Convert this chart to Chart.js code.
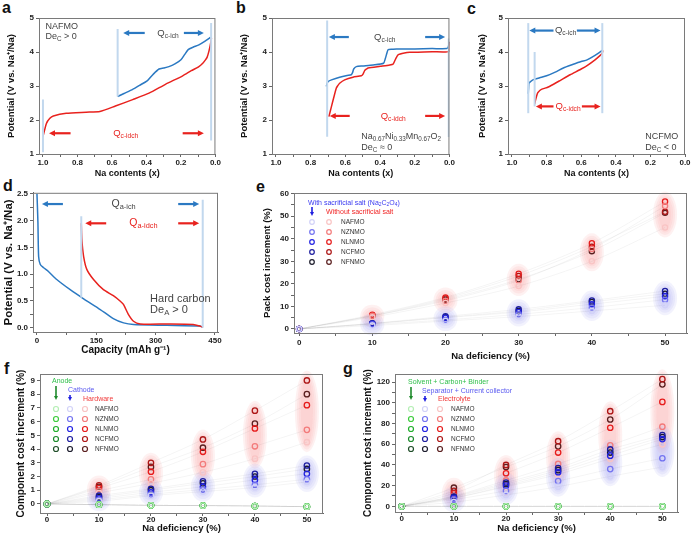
<!DOCTYPE html>
<html>
<head>
<meta charset="utf-8">
<script src="https://cdn.jsdelivr.net/npm/chart.js@4.4.1/dist/chart.umd.min.js"></script>
<style>
  body { margin: 0; background: #fff; }
  #page { position: relative; width: 694px; height: 534px; overflow: hidden; background: #fff; }
  canvas { position: absolute; }
  .lab { position: absolute; font: bold 16px "Liberation Sans", Arial, sans-serif; color: #111; }
</style>
</head>
<body>
<div id="page">
  <div class="lab" style="left:2px;top:-1px">a</div>
  <div class="lab" style="left:236px;top:-1px">b</div>
  <div class="lab" style="left:467px;top:0px">c</div>
  <div class="lab" style="left:3px;top:177px">d</div>
  <div class="lab" style="left:256px;top:178px">e</div>
  <div class="lab" style="left:4px;top:360px">f</div>
  <div class="lab" style="left:343px;top:360px">g</div>
  <canvas id="cA" width="222" height="180" style="left:0;top:0"></canvas>
  <canvas id="cB" width="223" height="180" style="left:233px;top:0"></canvas>
  <canvas id="cC" width="225" height="180" style="left:469px;top:0"></canvas>
  <canvas id="cD" width="224" height="174" style="left:0;top:186px"></canvas>
  <canvas id="cE" width="439" height="177" style="left:255px;top:186px"></canvas>
  <canvas id="cF" width="330" height="168" style="left:0;top:366px"></canvas>
  <canvas id="cG" width="342" height="168" style="left:352px;top:366px"></canvas>
</div>
<script>
// ---------- data ----------
// a: NAFMO charge / discharge (Na content x vs potential)
const aChargeX = [0.567, 0.53, 0.48, 0.44, 0.394, 0.36, 0.327, 0.30, 0.27, 0.235, 0.2, 0.178, 0.158, 0.13, 0.096, 0.06, 0.029];
const aChargeV = [2.69, 2.78, 2.9, 3.02, 3.16, 3.35, 3.5, 3.53, 3.57, 3.65, 3.77, 3.93, 4.07, 4.14, 4.21, 4.32, 4.43];
const aDischargeX = [0.023, 0.03, 0.038, 0.048, 0.058, 0.075, 0.096, 0.14, 0.19, 0.29, 0.385, 0.48, 0.58, 0.67, 0.75, 0.865, 0.94, 0.96, 0.98, 1.0];
const aDischargeV = [4.41, 4.2, 4.02, 3.85, 3.77, 3.66, 3.57, 3.45, 3.3, 3.05, 2.79, 2.6, 2.41, 2.25, 2.23, 2.2, 2.12, 2.05, 1.9, 1.51];

// b: Na0.67Ni0.33Mn0.67O2
const bChargeX = [0.71, 0.705, 0.70, 0.68, 0.633, 0.59, 0.566, 0.558, 0.552, 0.537, 0.5, 0.44, 0.38, 0.37, 0.36, 0.353, 0.33, 0.305, 0.2, 0.1, 0.015, 0.006, 0.0];
const bChargeV = [2.99, 3.08, 3.13, 3.18, 3.26, 3.31, 3.33, 3.4, 3.5, 3.57, 3.59, 3.62, 3.67, 3.8, 3.98, 4.07, 4.08, 4.09, 4.09, 4.1, 4.1, 4.16, 4.3];
const bDischargeX = [0.0, 0.0, 0.1, 0.228, 0.26, 0.295, 0.31, 0.324, 0.344, 0.4, 0.469, 0.478, 0.488, 0.498, 0.508, 0.556, 0.604, 0.633, 0.645, 0.652, 0.665, 0.68, 0.695];
const bDischargeV = [4.3, 4.02, 4.01, 3.99, 3.97, 3.92, 3.8, 3.65, 3.62, 3.58, 3.53, 3.5, 3.46, 3.35, 3.3, 3.26, 3.18, 3.08, 3.0, 2.94, 2.7, 2.4, 2.1];

// c: NCFMO
const cChargeX = [0.906, 0.904, 0.902, 0.89, 0.879, 0.84, 0.80, 0.75, 0.703, 0.65, 0.6, 0.566, 0.52, 0.478];
const cChargeV = [2.77, 2.95, 3.08, 3.14, 3.18, 3.24, 3.3, 3.41, 3.53, 3.63, 3.72, 3.77, 3.9, 4.05];
const cDischargeX = [0.869, 0.862, 0.855, 0.85, 0.83, 0.79, 0.73, 0.664, 0.6, 0.566, 0.52, 0.49, 0.478, 0.475];
const cDischargeV = [2.47, 2.62, 2.75, 2.81, 2.9, 2.97, 3.14, 3.33, 3.5, 3.6, 3.77, 3.9, 3.97, 4.05];

// d: hard carbon (capacity vs potential)
const dChargeCap = [0, 1, 2.5, 4.2, 8.4, 16.8, 29, 50, 84, 118, 160, 193, 219, 244, 328, 412, 419];
const dChargeV = [2.5, 2.3, 1.95, 1.33, 1.18, 1.12, 1.05, 0.9, 0.71, 0.54, 0.34, 0.17, 0.09, 0.06, 0.045, 0.03, 0.01];
const dDischargeCap = [112, 113.5, 118, 126, 143, 168, 193, 210, 219, 231, 244, 261, 328, 395, 412, 419];
const dDischargeV = [1.95, 1.64, 1.33, 1.09, 0.9, 0.71, 0.6, 0.5, 0.43, 0.25, 0.12, 0.07, 0.068, 0.06, 0.03, 0.01];

// e, f, g: cost increments vs Na deficiency, one row per material
const deficiency = [0, 10, 20, 30, 40, 50];
const materials = ['NAFMO', 'NZNMO', 'NLNMO', 'NCFMO', 'NFNMO'];

const packWithSalt = [
  [0, 1.5, 3.5, 5.5, 8, 10.5],
  [0, 2, 4, 6.5, 9.5, 13],
  [0, 2.3, 5, 7.5, 11, 14.5],
  [0, 2.5, 5.6, 8.7, 12.6, 16.8],
  [0, 2.4, 5.2, 8, 12, 15.6]
];
const packWithoutSalt = [
  [0, 5.2, 11.5, 19, 30, 45],
  [0, 5.8, 12.5, 21.5, 35.5, 54.5],
  [0, 6.3, 14, 24.5, 38, 56.5],
  [0, 6.0, 13.5, 23.5, 36.5, 52],
  [0, 5.7, 13, 22, 34.5, 51.5]
];

const anodeCost = [
  [0, -0.05, -0.1, -0.12, -0.15, -0.2],
  [0, -0.05, -0.1, -0.12, -0.15, -0.2],
  [0, -0.05, -0.1, -0.12, -0.15, -0.2],
  [0, -0.05, -0.1, -0.12, -0.15, -0.2],
  [0, -0.05, -0.1, -0.12, -0.15, -0.2]
];
const cathodeCost = [
  [0, 0.2, 0.6, 0.9, 1.2, 1.6],
  [0, 0.3, 0.7, 1.05, 1.4, 1.8],
  [0, 0.4, 0.85, 1.25, 1.75, 2.2],
  [0, 0.6, 1.1, 1.65, 2.2, 2.8],
  [0, 0.5, 1.0, 1.5, 2.0, 2.55]
];
const hardwareCost = [
  [0, 0.8, 1.5, 2.3, 3.3, 4.5],
  [0, 0.95, 1.8, 2.9, 4.2, 5.4],
  [0, 1.15, 2.35, 3.8, 5.5, 7.2],
  [0, 1.35, 3.0, 4.7, 6.8, 9.0],
  [0, 1.25, 2.7, 4.1, 5.85, 8.0]
];

const solventCost = [
  [0, 0, 0, 0, 0, 0],
  [0, 0, 0, 0, 0, 0],
  [0, 0, 0, 0, 0, 0],
  [0, 0, 0, 0, 0, 0],
  [0, 0, 0, 0, 0, 0]
];
const separatorCost = [
  [0, 4, 11, 19, 29, 38],
  [0, 6.5, 15, 24.5, 36, 46.5],
  [0, 8, 20, 33, 49, 65],
  [0, 9.5, 23, 37, 55, 69],
  [0, 9, 21.5, 35, 52, 67]
];
const electrolyteCost = [
  [0, 8, 19, 31, 46, 60],
  [0, 10, 25, 41, 59, 77],
  [0, 12.5, 32, 52, 76, 101],
  [0, 15, 40, 63, 92, 123],
  [0, 18, 38, 58, 84, 118]
];

// ---------- styles ----------
const FONT = '"Liberation Sans", Arial, sans-serif';
const BLUE = '#2b79c2';
const RED = '#e8221e';
const GUIDE = '#c2d8ee';
const NOTE = '#444';
const greenShades = ['#b4eeb4', '#3ccc3c', '#1fae2a', '#1b8a2b', '#1f4d28'];
const blueShades = ['#d2d2f8', '#7373f0', '#2323e2', '#1c1c9e', '#1c1c2c'];
const redShades = ['#f9c4c4', '#f37b7b', '#e61c1c', '#ad1616', '#5a1f1f'];

Chart.defaults.font.family = FONT;

// draws text with sub/superscripts, parts = [[text, ''|'sub'|'sup'], ...]
function richText(ctx, parts, x, y, size, color, align) {
  ctx.save();
  ctx.fillStyle = color;
  ctx.textBaseline = 'middle';
  ctx.textAlign = 'left';
  const fonts = parts.map(p => (p[1] ? size * 0.7 : size) + 'px ' + FONT);
  let w = 0;
  parts.forEach((p, i) => { ctx.font = fonts[i]; w += ctx.measureText(p[0]).width; });
  let cx = align === 'center' ? x - w / 2 : x;
  parts.forEach((p, i) => {
    ctx.font = fonts[i];
    const dy = p[1] === 'sub' ? size * 0.3 : p[1] === 'sup' ? -size * 0.35 : 0;
    ctx.fillText(p[0], cx, y + dy);
    cx += ctx.measureText(p[0]).width;
  });
  ctx.restore();
}

function arrow(ctx, x1, y1, x2, y2, color, width, head) {
  const a = Math.atan2(y2 - y1, x2 - x1);
  const c = Math.cos(a), s = Math.sin(a);
  ctx.save();
  ctx.strokeStyle = color;
  ctx.fillStyle = color;
  ctx.lineWidth = width;
  ctx.beginPath();
  ctx.moveTo(x1, y1);
  ctx.lineTo(x2 - c * head * 0.8, y2 - s * head * 0.8);
  ctx.stroke();
  ctx.beginPath();
  ctx.moveTo(x2, y2);
  ctx.lineTo(x2 - head * c + head * 0.5 * s, y2 - head * s - head * 0.5 * c);
  ctx.lineTo(x2 - head * c - head * 0.5 * s, y2 - head * s + head * 0.5 * c);
  ctx.closePath();
  ctx.fill();
  ctx.restore();
}

const frame = {
  id: 'frame',
  afterDraw(chart) {
    const { ctx, chartArea: a } = chart;
    ctx.save();
    ctx.strokeStyle = '#7a7a7a';
    ctx.lineWidth = 1;
    ctx.strokeRect(a.left + 0.5, a.top + 0.5, a.right - a.left - 1, a.bottom - a.top);
    ctx.restore();
  }
};

// arrows and labels placed in data coordinates
function notes(cfg) {
  return {
    id: 'notes',
    afterDatasetsDraw(chart) {
      const { ctx, scales: { x, y } } = chart;
      cfg.arrows.forEach(r => {
        arrow(ctx, x.getPixelForValue(r[0]), y.getPixelForValue(r[1]),
          x.getPixelForValue(r[2]), y.getPixelForValue(r[3]), r[4], 2.2, 6);
      });
      cfg.texts.forEach(t => {
        richText(ctx, t.parts, x.getPixelForValue(t.x), y.getPixelForValue(t.y), t.size, t.color, t.align);
      });
    }
  };
}

// soft shaded ellipses around each group of markers
function blobs(groups) {
  return {
    id: 'blobs',
    beforeDatasetsDraw(chart) {
      const { ctx, scales: { x, y } } = chart;
      ctx.save();
      groups.forEach(g => {
        deficiency.forEach((d, i) => {
          if (i === 0) return;
          const vals = g.series.map(s => s[i]);
          const top = y.getPixelForValue(Math.max(...vals));
          const bot = y.getPixelForValue(Math.min(...vals));
          const cx = x.getPixelForValue(d), cy = (top + bot) / 2;
          const ry = (bot - top) / 2 + g.pad, rx = g.rx;
          for (let k = 0; k < 4; k++) {
            ctx.beginPath();
            ctx.ellipse(cx, cy, rx - k * 2, ry - k * 2.5, 0, 0, Math.PI * 2);
            ctx.fillStyle = g.fill;
            ctx.fill();
          }
        });
      });
      ctx.restore();
    }
  };
}

// the in-plot legend of panels e, f, g
function legendBox(cfg) {
  return {
    id: 'legendBox',
    afterDraw(chart) {
      const { ctx, chartArea: a } = chart;
      cfg.heads.forEach(h => richText(ctx, h.parts, a.left + h.x, a.top + h.y, cfg.headSize, h.color, 'left'));
      cfg.arrows.forEach(r => arrow(ctx, a.left + r[0], a.top + r[1], a.left + r[0], a.top + r[2], r[3], 1.6, 4));
      materials.forEach((m, i) => {
        const yy = a.top + cfg.rowY + i * cfg.rowStep;
        cfg.cols.forEach(c => {
          ctx.beginPath();
          ctx.arc(a.left + c.x, yy, cfg.r, 0, Math.PI * 2);
          ctx.strokeStyle = c.shades[i];
          ctx.lineWidth = 1.2;
          ctx.stroke();
        });
        richText(ctx, [[m, '']], a.left + cfg.nameX, yy, cfg.nameSize, '#333', 'left');
      });
    }
  };
}

function axis(o) {
  return {
    type: 'linear',
    min: o.min,
    max: o.max,
    reverse: !!o.reverse,
    ticks: {
      stepSize: o.step, autoSkip: false, includeBounds: false, maxRotation: 0,
      padding: o.tickPad, color: '#222',
      font: { family: FONT, size: o.tickSize, weight: 'bold' },
      callback: o.label
    },
    grid: { drawOnChartArea: false, tickLength: 3, color: '#666', lineWidth: 1 },
    border: { color: '#666', width: 1 },
    title: {
      display: true, text: o.title, color: '#111',
      font: { family: FONT, size: o.titleSize, weight: 'bold' },
      padding: o.titlePad
    },
    afterFit: o.fit
  };
}

function options(padTop, padRight, xAxis, yAxis) {
  return {
    responsive: false,
    animation: false,
    events: [],
    layout: { padding: { top: padTop, right: padRight, left: 0, bottom: 0 } },
    plugins: { legend: { display: false }, tooltip: { enabled: false } },
    scales: { x: xAxis, y: yAxis }
  };
}

function curveSet(xs, ys, color) {
  return {
    data: xs.map((v, i) => ({ x: v, y: ys[i] })),
    showLine: true, borderColor: color, borderWidth: 1.5,
    pointRadius: 0, tension: 0.2, fill: false
  };
}

function guideSet(x, y0, y1) {
  return {
    data: [{ x: x, y: y0 }, { x: x, y: y1 }],
    showLine: true, borderColor: GUIDE, borderWidth: 2, pointRadius: 0, tension: 0
  };
}

function markerSet(values, color, r) {
  return {
    data: deficiency.map((d, i) => ({ x: d, y: values[i] })),
    showLine: true, borderColor: 'rgba(0,0,0,0.045)', borderWidth: 1, tension: 0.3,
    pointRadius: r, pointBorderWidth: 1.3, pointBorderColor: color,
    pointBackgroundColor: 'rgba(0,0,0,0)'
  };
}

const tenths = v => (Math.round(v * 10) % 2 === 0 ? v.toFixed(1) : '');
const whole = v => v;
const potentialTitle = 'Potential (V vs. Na\u207A/Na)';

function naAxis() {
  return axis({ min: 0, max: 1.023, reverse: true, step: 0.1, label: tenths, tickSize: 8, tickPad: 1,
    title: 'Na contents (x)', titleSize: 9, titlePad: { top: 0, bottom: 1.5 }, fit: s => { s.height = 26; } });
}
function potAxis(pad) {
  return axis({ min: 1, max: 5, step: 1, label: whole, tickSize: 8, tickPad: 2,
    title: potentialTitle, titleSize: 9.5, titlePad: { top: pad, bottom: 0 }, fit: s => { s.width = 39; } });
}

const Qich = [['Q', ''], ['c-ich', 'sub']];
const Qidch = [['Q', ''], ['c-idch', 'sub']];

// ---------- a ----------
new Chart(document.getElementById('cA'), {
  type: 'scatter',
  data: { datasets: [
    guideSet(1.0, 1.05, 2.6), guideSet(0.567, 2.69, 4.68), guideSet(0.025, 1.4, 4.85),
    curveSet(aDischargeX, aDischargeV, RED),
    curveSet(aChargeX, aChargeV, BLUE)
  ] },
  options: options(18, 5, naAxis(), potAxis(5.5)),
  plugins: [frame, notes({
    arrows: [[0.41, 4.56, 0.535, 4.56, BLUE], [0.183, 4.56, 0.067, 4.56, BLUE],
             [0.84, 1.61, 0.965, 1.61, RED], [0.19, 1.61, 0.067, 1.61, RED]],
    texts: [
      { x: 0.985, y: 4.75, parts: [['NAFMO', '']], size: 9, color: NOTE, align: 'left' },
      { x: 0.985, y: 4.45, parts: [['De', ''], ['C', 'sub'], [' > 0', '']], size: 9, color: NOTE, align: 'left' },
      { x: 0.275, y: 4.56, parts: Qich, size: 9.5, color: NOTE, align: 'center' },
      { x: 0.52, y: 1.61, parts: Qidch, size: 9.5, color: RED, align: 'center' }
    ]
  })]
});

// ---------- b ----------
new Chart(document.getElementById('cB'), {
  type: 'scatter',
  data: { datasets: [
    guideSet(0.705, 1.51, 4.93), guideSet(0.004, 1.5, 4.4),
    curveSet(bDischargeX, bDischargeV, RED),
    curveSet(bChargeX, bChargeV, BLUE)
  ] },
  options: options(18, 5, naAxis(), potAxis(5.5)),
  plugins: [frame, notes({
    arrows: [[0.58, 4.44, 0.695, 4.44, BLUE], [0.14, 4.44, 0.025, 4.44, BLUE],
             [0.575, 2.12, 0.69, 2.12, RED], [0.14, 2.12, 0.025, 2.12, RED]],
    texts: [
      { x: 0.373, y: 4.44, parts: Qich, size: 9.5, color: NOTE, align: 'center' },
      { x: 0.324, y: 2.12, parts: Qidch, size: 9.5, color: RED, align: 'center' },
      { x: 0.508, y: 1.5, parts: [['Na', ''], ['0.67', 'sub'], ['Ni', ''], ['0.33', 'sub'], ['Mn', ''], ['0.67', 'sub'], ['O', ''], ['2', 'sub']], size: 9, color: NOTE, align: 'left' },
      { x: 0.508, y: 1.2, parts: [['De', ''], ['C', 'sub'], [' \u2248 0', '']], size: 9, color: NOTE, align: 'left' }
    ]
  })]
});

// ---------- c ----------
new Chart(document.getElementById('cC'), {
  type: 'scatter',
  data: { datasets: [
    guideSet(0.906, 2.2, 4.85), guideSet(0.869, 2.4, 4.0), guideSet(0.478, 2.2, 4.85),
    curveSet(cDischargeX, cDischargeV, RED),
    curveSet(cChargeX, cChargeV, BLUE)
  ] },
  options: options(18, 9, naAxis(), potAxis(7.5)),
  plugins: [frame, notes({
    arrows: [[0.76, 4.63, 0.9, 4.63, BLUE], [0.625, 4.63, 0.488, 4.63, BLUE],
             [0.76, 2.4, 0.862, 2.4, RED], [0.596, 2.4, 0.488, 2.4, RED]],
    texts: [
      { x: 0.69, y: 4.63, parts: Qich, size: 9.5, color: NOTE, align: 'center' },
      { x: 0.676, y: 2.4, parts: Qidch, size: 9.5, color: RED, align: 'center' },
      { x: 0.23, y: 1.5, parts: [['NCFMO', '']], size: 9, color: NOTE, align: 'left' },
      { x: 0.23, y: 1.2, parts: [['De', ''], ['C', 'sub'], [' < 0', '']], size: 9, color: NOTE, align: 'left' }
    ]
  })]
});

// ---------- d ----------
new Chart(document.getElementById('cD'), {
  type: 'scatter',
  data: { datasets: [
    guideSet(112, 0.56, 2.08), guideSet(419, 0, 2.39),
    curveSet(dDischargeCap, dDischargeV, RED),
    curveSet(dChargeCap, dChargeV, BLUE)
  ] },
  options: options(6, 6,
    axis({ min: -10, max: 457.6, step: 75, label: v => (v % 150 === 0 ? v : ''), tickSize: 8, tickPad: 1,
      title: 'Capacity (mAh g\u207B\u00B9)', titleSize: 10, titlePad: { top: 0, bottom: 3.5 }, fit: s => { s.height = 28; } }),
    axis({ min: -0.08, max: 2.52, step: 0.25, label: v => (Math.round(v * 4) % 2 === 0 ? v.toFixed(1) : ''), tickSize: 8, tickPad: 2,
      title: potentialTitle, titleSize: 11.5, titlePad: { top: 1.5, bottom: 0 }, fit: s => { s.width = 33; } })),
  plugins: [frame, notes({
    arrows: [[65.6, 2.31, 12.6, 2.31, BLUE], [357, 2.31, 410, 2.31, BLUE],
             [175, 1.95, 122, 1.95, RED], [357, 1.95, 410, 1.95, RED]],
    texts: [
      { x: 219, y: 2.31, parts: [['Q', ''], ['a-ich', 'sub']], size: 10.5, color: NOTE, align: 'center' },
      { x: 269, y: 1.95, parts: [['Q', ''], ['a-idch', 'sub']], size: 10.5, color: RED, align: 'center' },
      { x: 286, y: 0.54, parts: [['Hard carbon', '']], size: 11, color: NOTE, align: 'left' },
      { x: 286, y: 0.33, parts: [['De', ''], ['A', 'sub'], [' > 0', '']], size: 11, color: NOTE, align: 'left' }
    ]
  })]
});

// ---------- e ----------
const xDef = (height, size, pad) => axis({ min: -0.7, max: 53, step: 5, label: v => (v % 10 === 0 ? v : ''),
  tickSize: 8, tickPad: pad, title: 'Na deficiency (%)', titleSize: size, titlePad: { top: 0, bottom: 1 },
  fit: s => { s.height = height; } });

new Chart(document.getElementById('cE'), {
  type: 'scatter',
  data: { datasets: [
    ...packWithSalt.map((v, i) => markerSet(v, blueShades[i], 2.6)),
    ...packWithoutSalt.map((v, i) => markerSet(v, redShades[i], 2.6))
  ] },
  options: options(7, 7, xDef(30, 9.5, 2),
    axis({ min: -1.8, max: 60.3, step: 5, label: v => (v % 10 === 0 ? v : ''), tickSize: 8, tickPad: 2,
      title: 'Pack cost increment (%)', titleSize: 9.5, titlePad: { top: 7, bottom: 0 }, fit: s => { s.width = 39; } })),
  plugins: [frame,
    blobs([{ series: packWithoutSalt, fill: 'rgba(246,170,170,0.16)', rx: 12, pad: 10 },
           { series: packWithSalt, fill: 'rgba(175,175,240,0.16)', rx: 12, pad: 10 }]),
    legendBox({
      headSize: 7, nameSize: 6.5, r: 2.3, rowY: 29, rowStep: 10, nameX: 47,
      heads: [
        { x: 14, y: 10, color: '#3a3af0', parts: [['With sacrificial salt (Na', ''], ['2', 'sub'], ['C', ''], ['2', 'sub'], ['O', ''], ['4', 'sub'], [')', '']] },
        { x: 32, y: 19, color: '#f02424', parts: [['Without sacrificial salt', '']] }
      ],
      arrows: [[18, 14, 23, '#1f1fe0']],
      cols: [{ x: 18, shades: blueShades }, { x: 35, shades: redShades }]
    })]
});

// ---------- f ----------
const xDefFG = () => axis({ min: -1.35, max: 53.1, step: 5, label: v => (v % 10 === 0 ? v : ''),
  tickSize: 8, tickPad: -1, title: 'Na deficiency (%)', titleSize: 9.5, titlePad: { top: 0, bottom: 0 },
  fit: s => { s.height = 21; } });

new Chart(document.getElementById('cF'), {
  type: 'scatter',
  data: { datasets: [
    ...anodeCost.map((v, i) => markerSet(v, greenShades[i], 2.7)),
    ...cathodeCost.map((v, i) => markerSet(v, blueShades[i], 2.7)),
    ...hardwareCost.map((v, i) => markerSet(v, redShades[i], 2.7))
  ] },
  options: options(8, 7, xDefFG(),
    axis({ min: -0.66, max: 9.47, step: 1, label: whole, tickSize: 8, tickPad: 2,
      title: 'Component cost increment (%)', titleSize: 10, titlePad: { top: 15, bottom: 0 }, fit: s => { s.width = 40; } })),
  plugins: [frame,
    blobs([{ series: hardwareCost, fill: 'rgba(246,170,170,0.16)', rx: 12, pad: 10 },
           { series: cathodeCost, fill: 'rgba(175,175,240,0.16)', rx: 12, pad: 10 }]),
    legendBox({
      headSize: 7, nameSize: 6.5, r: 2.5, rowY: 35, rowStep: 10, nameX: 55,
      heads: [
        { x: 12, y: 7, color: '#2fbf4a', parts: [['Anode', '']] },
        { x: 28, y: 16, color: '#5a5af0', parts: [['Cathode', '']] },
        { x: 43, y: 25, color: '#f03a3a', parts: [['Hardware', '']] }
      ],
      arrows: [[16, 12, 26, '#1e8a2b'], [30, 21, 27, '#1f1fe0']],
      cols: [{ x: 16, shades: greenShades }, { x: 30, shades: blueShades }, { x: 45, shades: redShades }]
    })]
});

// ---------- g ----------
new Chart(document.getElementById('cG'), {
  type: 'scatter',
  data: { datasets: [
    ...solventCost.map((v, i) => markerSet(v, greenShades[i], 2.7)),
    ...separatorCost.map((v, i) => markerSet(v, blueShades[i], 2.7)),
    ...electrolyteCost.map((v, i) => markerSet(v, redShades[i], 2.7))
  ] },
  options: options(8, 16, axis({ min: -1.3, max: 53, step: 5, label: v => (v % 10 === 0 ? v : ''),
      tickSize: 8, tickPad: -1, title: 'Na deficiency (%)', titleSize: 9.5, titlePad: { top: 0, bottom: 0 },
      fit: s => { s.height = 22; } }),
    axis({ min: -5.5, max: 128, step: 10, label: v => (v % 20 === 0 ? v : ''), tickSize: 8, tickPad: 2,
      title: 'Component cost increment (%)', titleSize: 10, titlePad: { top: 10, bottom: 0 }, fit: s => { s.width = 43; } })),
  plugins: [frame,
    blobs([{ series: electrolyteCost, fill: 'rgba(246,170,170,0.16)', rx: 12, pad: 10 },
           { series: separatorCost, fill: 'rgba(175,175,240,0.16)', rx: 12, pad: 10 }]),
    legendBox({
      headSize: 7, nameSize: 6.5, r: 2.5, rowY: 35, rowStep: 10, nameX: 56,
      heads: [
        { x: 13, y: 8, color: '#2fbf4a', parts: [['Solvent + Carbon+ Binder', '']] },
        { x: 27, y: 17, color: '#5a5af0', parts: [['Separator + Current collector', '']] },
        { x: 43, y: 25, color: '#f03a3a', parts: [['Electrolyte', '']] }
      ],
      arrows: [[16, 13, 26, '#1e8a2b'], [30, 22, 28, '#1f1fe0']],
      cols: [{ x: 16, shades: greenShades }, { x: 30, shades: blueShades }, { x: 45, shades: redShades }]
    })]
});
</script>
</body>
</html>
